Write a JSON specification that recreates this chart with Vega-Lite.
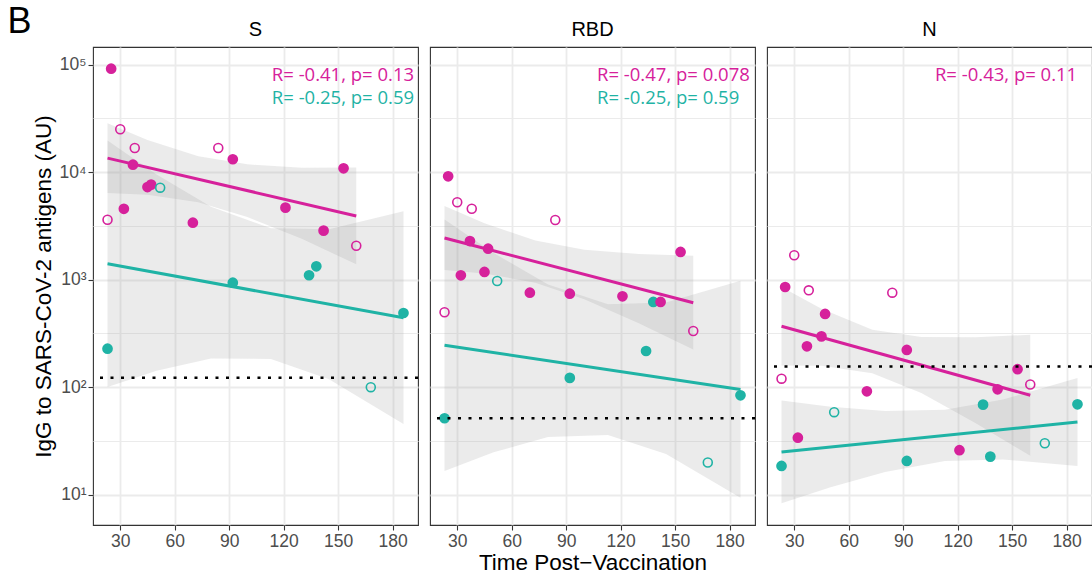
{
  "$schema": "https://vega.github.io/schema/vega-lite/v6.json",
  "padding": {"left": 7, "top": 4, "right": 0, "bottom": 0},
  "title": {"text": "B", "orient": "left", "anchor": "end", "frame": "bounds", "angle": 0, "align": "left", "baseline": "top", "offset": 0, "dy": -14, "font": "Liberation Sans", "fontSize": 36, "fontWeight": "normal", "color": "black"},
  "spacing": 8,
  "datasets": {
    "pts": [
      {"panel": "S", "group": "G2", "hollow": true, "day": 52, "igg": 7180},
      {"panel": "S", "group": "G2", "hollow": true, "day": 168, "igg": 100},
      {"panel": "S", "group": "G2", "hollow": false, "day": 92, "igg": 938},
      {"panel": "S", "group": "G2", "hollow": false, "day": 134, "igg": 1100},
      {"panel": "S", "group": "G2", "hollow": false, "day": 138, "igg": 1333},
      {"panel": "S", "group": "G2", "hollow": false, "day": 23, "igg": 228},
      {"panel": "S", "group": "G2", "hollow": false, "day": 186, "igg": 490},
      {"panel": "S", "group": "G1", "hollow": false, "day": 25, "igg": 91800},
      {"panel": "S", "group": "G1", "hollow": false, "day": 37, "igg": 11750},
      {"panel": "S", "group": "G1", "hollow": false, "day": 92, "igg": 13200},
      {"panel": "S", "group": "G1", "hollow": false, "day": 153, "igg": 10870},
      {"panel": "S", "group": "G1", "hollow": false, "day": 45, "igg": 7280},
      {"panel": "S", "group": "G1", "hollow": false, "day": 47, "igg": 7660},
      {"panel": "S", "group": "G1", "hollow": false, "day": 32, "igg": 4570},
      {"panel": "S", "group": "G1", "hollow": false, "day": 70, "igg": 3390},
      {"panel": "S", "group": "G1", "hollow": false, "day": 121, "igg": 4680},
      {"panel": "S", "group": "G1", "hollow": false, "day": 142, "igg": 2860},
      {"panel": "S", "group": "G1", "hollow": true, "day": 30, "igg": 25100},
      {"panel": "S", "group": "G1", "hollow": true, "day": 38, "igg": 16800},
      {"panel": "S", "group": "G1", "hollow": true, "day": 84, "igg": 16800},
      {"panel": "S", "group": "G1", "hollow": true, "day": 23, "igg": 3610},
      {"panel": "S", "group": "G1", "hollow": true, "day": 160, "igg": 2070},
      {"panel": "RBD", "group": "G2", "hollow": true, "day": 52, "igg": 973},
      {"panel": "RBD", "group": "G2", "hollow": true, "day": 168, "igg": 19.9},
      {"panel": "RBD", "group": "G2", "hollow": false, "day": 138, "igg": 621},
      {"panel": "RBD", "group": "G2", "hollow": false, "day": 134, "igg": 217},
      {"panel": "RBD", "group": "G2", "hollow": false, "day": 92, "igg": 122},
      {"panel": "RBD", "group": "G2", "hollow": false, "day": 186, "igg": 84},
      {"panel": "RBD", "group": "G2", "hollow": false, "day": 23, "igg": 51.4},
      {"panel": "RBD", "group": "G1", "hollow": false, "day": 25, "igg": 9160},
      {"panel": "RBD", "group": "G1", "hollow": false, "day": 37, "igg": 2290},
      {"panel": "RBD", "group": "G1", "hollow": false, "day": 47, "igg": 1941},
      {"panel": "RBD", "group": "G1", "hollow": false, "day": 32, "igg": 1099},
      {"panel": "RBD", "group": "G1", "hollow": false, "day": 45, "igg": 1180},
      {"panel": "RBD", "group": "G1", "hollow": false, "day": 153, "igg": 1811},
      {"panel": "RBD", "group": "G1", "hollow": false, "day": 70, "igg": 757},
      {"panel": "RBD", "group": "G1", "hollow": false, "day": 92, "igg": 741},
      {"panel": "RBD", "group": "G1", "hollow": false, "day": 121, "igg": 701},
      {"panel": "RBD", "group": "G1", "hollow": false, "day": 142, "igg": 621},
      {"panel": "RBD", "group": "G1", "hollow": true, "day": 30, "igg": 5250},
      {"panel": "RBD", "group": "G1", "hollow": true, "day": 38, "igg": 4570},
      {"panel": "RBD", "group": "G1", "hollow": true, "day": 84, "igg": 3590},
      {"panel": "RBD", "group": "G1", "hollow": true, "day": 23, "igg": 498},
      {"panel": "RBD", "group": "G1", "hollow": true, "day": 160, "igg": 333},
      {"panel": "N", "group": "G2", "hollow": true, "day": 52, "igg": 58.5},
      {"panel": "N", "group": "G2", "hollow": true, "day": 168, "igg": 30.1},
      {"panel": "N", "group": "G2", "hollow": false, "day": 134, "igg": 68.8},
      {"panel": "N", "group": "G2", "hollow": false, "day": 186, "igg": 69.3},
      {"panel": "N", "group": "G2", "hollow": false, "day": 92, "igg": 20.6},
      {"panel": "N", "group": "G2", "hollow": false, "day": 138, "igg": 22.6},
      {"panel": "N", "group": "G2", "hollow": false, "day": 23, "igg": 18.5},
      {"panel": "N", "group": "G1", "hollow": false, "day": 25, "igg": 855},
      {"panel": "N", "group": "G1", "hollow": false, "day": 47, "igg": 480},
      {"panel": "N", "group": "G1", "hollow": false, "day": 45, "igg": 297},
      {"panel": "N", "group": "G1", "hollow": false, "day": 37, "igg": 240},
      {"panel": "N", "group": "G1", "hollow": false, "day": 92, "igg": 222},
      {"panel": "N", "group": "G1", "hollow": false, "day": 153, "igg": 147},
      {"panel": "N", "group": "G1", "hollow": false, "day": 142, "igg": 95.5},
      {"panel": "N", "group": "G1", "hollow": false, "day": 70, "igg": 91.6},
      {"panel": "N", "group": "G1", "hollow": false, "day": 32, "igg": 33.9},
      {"panel": "N", "group": "G1", "hollow": false, "day": 121, "igg": 25.9},
      {"panel": "N", "group": "G1", "hollow": true, "day": 30, "igg": 1687},
      {"panel": "N", "group": "G1", "hollow": true, "day": 38, "igg": 796},
      {"panel": "N", "group": "G1", "hollow": true, "day": 84, "igg": 757},
      {"panel": "N", "group": "G1", "hollow": true, "day": 23, "igg": 120},
      {"panel": "N", "group": "G1", "hollow": true, "day": 160, "igg": 106}
    ],
    "fits": [
      {"panel": "S", "group": "G1", "day": 23, "igg": 13520},
      {"panel": "S", "group": "G1", "day": 160, "igg": 3917},
      {"panel": "S", "group": "G2", "day": 23, "igg": 1406},
      {"panel": "S", "group": "G2", "day": 186, "igg": 442.6},
      {"panel": "RBD", "group": "G1", "day": 23, "igg": 2443},
      {"panel": "RBD", "group": "G1", "day": 160, "igg": 609.5},
      {"panel": "RBD", "group": "G2", "day": 23, "igg": 245.5},
      {"panel": "RBD", "group": "G2", "day": 186, "igg": 95.2},
      {"panel": "N", "group": "G1", "day": 23, "igg": 369},
      {"panel": "N", "group": "G1", "day": 160, "igg": 84.1},
      {"panel": "N", "group": "G2", "day": 23, "igg": 24.9},
      {"panel": "N", "group": "G2", "day": 186, "igg": 47.4}
    ],
    "bands": [
      {"panel": "S", "group": "G1", "day": 23, "igg": 6397, "igg2": 28580},
      {"panel": "S", "group": "G1", "day": 45, "igg": 6159, "igg2": 19930},
      {"panel": "S", "group": "G1", "day": 73, "igg": 5243, "igg2": 14110},
      {"panel": "S", "group": "G1", "day": 100, "igg": 3833, "igg2": 11840},
      {"panel": "S", "group": "G1", "day": 130, "igg": 2403, "igg2": 10985},
      {"panel": "S", "group": "G1", "day": 160, "igg": 1390, "igg2": 11040},
      {"panel": "S", "group": "G2", "day": 23, "igg": 100.5, "igg2": 19770},
      {"panel": "S", "group": "G2", "day": 50, "igg": 141.9, "igg2": 9506},
      {"panel": "S", "group": "G2", "day": 80, "igg": 184.9, "igg2": 4764},
      {"panel": "S", "group": "G2", "day": 113, "igg": 183.2, "igg2": 3013},
      {"panel": "S", "group": "G2", "day": 145, "igg": 118.6, "igg2": 2951},
      {"panel": "S", "group": "G2", "day": 186, "igg": 45.4, "igg2": 4335},
      {"panel": "RBD", "group": "G1", "day": 23, "igg": 1230, "igg2": 4853},
      {"panel": "RBD", "group": "G1", "day": 45, "igg": 1144, "igg2": 3347},
      {"panel": "RBD", "group": "G1", "day": 73, "igg": 938, "igg2": 2313},
      {"panel": "RBD", "group": "G1", "day": 100, "igg": 659, "igg2": 1904},
      {"panel": "RBD", "group": "G1", "day": 130, "igg": 393, "igg2": 1736},
      {"panel": "RBD", "group": "G1", "day": 160, "igg": 224, "igg2": 1667},
      {"panel": "RBD", "group": "G2", "day": 23, "igg": 16.6, "igg2": 3622},
      {"panel": "RBD", "group": "G2", "day": 50, "igg": 24.8, "igg2": 1774},
      {"panel": "RBD", "group": "G2", "day": 80, "igg": 34.4, "igg2": 904},
      {"panel": "RBD", "group": "G2", "day": 113, "igg": 35.9, "igg2": 590},
      {"panel": "RBD", "group": "G2", "day": 145, "igg": 23.9, "igg2": 612},
      {"panel": "RBD", "group": "G2", "day": 186, "igg": 9.35, "igg2": 975},
      {"panel": "N", "group": "G1", "day": 23, "igg": 159.2, "igg2": 855},
      {"panel": "N", "group": "G1", "day": 45, "igg": 158.1, "igg2": 535.4},
      {"panel": "N", "group": "G1", "day": 73, "igg": 134.8, "igg2": 342.9},
      {"panel": "N", "group": "G1", "day": 100, "igg": 88.3, "igg2": 292.2},
      {"panel": "N", "group": "G1", "day": 130, "igg": 46.2, "igg2": 291.6},
      {"panel": "N", "group": "G1", "day": 160, "igg": 23.0, "igg2": 307.6},
      {"panel": "N", "group": "G2", "day": 23, "igg": 8.3, "igg2": 75.0},
      {"panel": "N", "group": "G2", "day": 50, "igg": 11.69, "igg2": 65.9},
      {"panel": "N", "group": "G2", "day": 80, "igg": 16.29, "igg2": 59.9},
      {"panel": "N", "group": "G2", "day": 113, "igg": 20.58, "igg2": 61.5},
      {"panel": "N", "group": "G2", "day": 145, "igg": 21.25, "igg2": 76.7},
      {"panel": "N", "group": "G2", "day": 186, "igg": 18.45, "igg2": 121.9}
    ],
    "thr": [
      {"panel": "S", "igg": 122.5},
      {"panel": "RBD", "igg": 51.4},
      {"panel": "N", "igg": 156}
    ],
    "notes": [
      {"panel": "S", "group": "G1", "day": 113.5, "igg": 80200, "label": "R= -0.41, p= 0.13"},
      {"panel": "S", "group": "G2", "day": 113.5, "igg": 49000, "label": "R= -0.25, p= 0.59"},
      {"panel": "RBD", "group": "G1", "day": 107, "igg": 80200, "label": "R= -0.47, p= 0.078"},
      {"panel": "RBD", "group": "G2", "day": 107, "igg": 49000, "label": "R= -0.25, p= 0.59"},
      {"panel": "N", "group": "G1", "day": 107.5, "igg": 80200, "label": "R= -0.43, p= 0.11"}
    ]
  },
  "hconcat": [
    {
      "width": 325, "height": 478,
      "title": {"text": "S", "frame": "group", "anchor": "middle", "offset": 7, "fontSize": 20, "font": "Liberation Sans", "fontWeight": "normal", "color": "black"},
      "layer": [
        {"data": {"name": "bands"}, "transform": [{"filter": "datum.panel == 'S'"}],
         "mark": {"type": "area", "color": "#999999", "opacity": 0.2},
         "encoding": {
           "x": {"field": "day", "type": "quantitative", "scale": {"domain": [15, 194], "nice": false, "zero": false},
                 "axis": {"title": null, "values": [30,45,60,75,90,105,120,135,150,165,180], "labelExpr": "datum.value % 30 == 0 ? datum.label : ''",
                          "gridWidth": {"condition": {"test": "datum.value % 30 == 0", "value": 1.8}, "value": 1.1},
                          "tickOpacity": {"condition": {"test": "datum.value % 30 == 0", "value": 1}, "value": 0}}},
           "y": {"field": "igg", "type": "quantitative", "scale": {"type": "log", "domain": [5.22, 146200], "nice": false},
                 "axis": {"title": "IgG to SARS-CoV-2 antigens (AU)", "titlePadding": 4, "values": [10, 31.6228, 100, 316.228, 1000, 3162.28, 10000, 31622.8, 100000],
                          "labelExpr": "datum.value == 10 ? '10¹' : datum.value == 100 ? '10²' : datum.value == 1000 ? '10³' : datum.value == 10000 ? '10⁴' : datum.value == 100000 ? '10⁵' : ''",
                          "gridWidth": {"condition": {"test": "indexof([10,100,1000,10000,100000], datum.value) >= 0", "value": 1.8}, "value": 1.1},
                          "tickOpacity": {"condition": {"test": "indexof([10,100,1000,10000,100000], datum.value) >= 0", "value": 1}, "value": 0}}},
           "y2": {"field": "igg2"},
           "detail": {"field": "group", "type": "nominal"}
         }},
        {"data": {"name": "fits"}, "transform": [{"filter": "datum.panel == 'S'"}],
         "mark": {"type": "line", "strokeWidth": 3},
         "encoding": {
           "x": {"field": "day", "type": "quantitative", "scale": {"domain": [15, 194], "nice": false, "zero": false}},
           "y": {"field": "igg", "type": "quantitative", "scale": {"type": "log", "domain": [5.22, 146200], "nice": false}},
           "color": {"field": "group", "type": "nominal", "scale": {"domain": ["G1", "G2"], "range": ["#D6219B", "#1FB3A5"]}, "legend": null}
         }},
        {"data": {"name": "pts"}, "transform": [{"filter": "datum.panel == 'S' && !datum.hollow"}],
         "mark": {"type": "circle", "size": 115, "opacity": 1},
         "encoding": {
           "x": {"field": "day", "type": "quantitative", "scale": {"domain": [15, 194], "nice": false, "zero": false}},
           "y": {"field": "igg", "type": "quantitative", "scale": {"type": "log", "domain": [5.22, 146200], "nice": false}},
           "color": {"field": "group", "type": "nominal", "scale": {"domain": ["G1", "G2"], "range": ["#D6219B", "#1FB3A5"]}, "legend": null}
         }},
        {"data": {"name": "pts"}, "transform": [{"filter": "datum.panel == 'S' && datum.hollow"}],
         "mark": {"type": "point", "shape": "circle", "filled": false, "size": 80, "strokeWidth": 1.6, "opacity": 1},
         "encoding": {
           "x": {"field": "day", "type": "quantitative", "scale": {"domain": [15, 194], "nice": false, "zero": false}},
           "y": {"field": "igg", "type": "quantitative", "scale": {"type": "log", "domain": [5.22, 146200], "nice": false}},
           "color": {"field": "group", "type": "nominal", "scale": {"domain": ["G1", "G2"], "range": ["#D6219B", "#1FB3A5"]}, "legend": null}
         }},
        {"data": {"name": "thr"}, "transform": [{"filter": "datum.panel == 'S'"}],
         "mark": {"type": "rule", "color": "black", "strokeWidth": 2.5, "strokeDash": [3, 7.5]},
         "encoding": {
           "y": {"field": "igg", "type": "quantitative", "scale": {"type": "log", "domain": [5.22, 146200], "nice": false}}
         }},
        {"data": {"name": "notes"}, "transform": [{"filter": "datum.panel == 'S'"}],
         "mark": {"type": "text", "align": "left", "baseline": "middle", "font": "Open Sans", "fontSize": 18.5},
         "encoding": {
           "x": {"field": "day", "type": "quantitative", "scale": {"domain": [15, 194], "nice": false, "zero": false}},
           "y": {"field": "igg", "type": "quantitative", "scale": {"type": "log", "domain": [5.22, 146200], "nice": false}},
           "text": {"field": "label"},
           "color": {"field": "group", "type": "nominal", "scale": {"domain": ["G1", "G2"], "range": ["#D6219B", "#1FB3A5"]}, "legend": null}
         }}
      ]
    },
    {
      "width": 325, "height": 478,
      "title": {"text": "RBD", "frame": "group", "anchor": "middle", "offset": 7, "fontSize": 20, "font": "Liberation Sans", "fontWeight": "normal", "color": "black"},
      "layer": [
        {"data": {"name": "bands"}, "transform": [{"filter": "datum.panel == 'RBD'"}],
         "mark": {"type": "area", "color": "#999999", "opacity": 0.2},
         "encoding": {
           "x": {"field": "day", "type": "quantitative", "scale": {"domain": [15, 194], "nice": false, "zero": false},
                 "axis": {"title": "Time Post\u2212Vaccination", "titlePadding": 2, "values": [30,45,60,75,90,105,120,135,150,165,180], "labelExpr": "datum.value % 30 == 0 ? datum.label : ''",
                          "gridWidth": {"condition": {"test": "datum.value % 30 == 0", "value": 1.8}, "value": 1.1},
                          "tickOpacity": {"condition": {"test": "datum.value % 30 == 0", "value": 1}, "value": 0}}},
           "y": {"field": "igg", "type": "quantitative", "scale": {"type": "log", "domain": [5.22, 146200], "nice": false},
                 "axis": {"title": null, "labels": false, "ticks": false, "values": [10, 31.6228, 100, 316.228, 1000, 3162.28, 10000, 31622.8, 100000],
                          "gridWidth": {"condition": {"test": "indexof([10,100,1000,10000,100000], datum.value) >= 0", "value": 1.8}, "value": 1.1}}},
           "y2": {"field": "igg2"},
           "detail": {"field": "group", "type": "nominal"}
         }},
        {"data": {"name": "fits"}, "transform": [{"filter": "datum.panel == 'RBD'"}],
         "mark": {"type": "line", "strokeWidth": 3},
         "encoding": {
           "x": {"field": "day", "type": "quantitative", "scale": {"domain": [15, 194], "nice": false, "zero": false}},
           "y": {"field": "igg", "type": "quantitative", "scale": {"type": "log", "domain": [5.22, 146200], "nice": false}},
           "color": {"field": "group", "type": "nominal", "scale": {"domain": ["G1", "G2"], "range": ["#D6219B", "#1FB3A5"]}, "legend": null}
         }},
        {"data": {"name": "pts"}, "transform": [{"filter": "datum.panel == 'RBD' && !datum.hollow"}],
         "mark": {"type": "circle", "size": 115, "opacity": 1},
         "encoding": {
           "x": {"field": "day", "type": "quantitative", "scale": {"domain": [15, 194], "nice": false, "zero": false}},
           "y": {"field": "igg", "type": "quantitative", "scale": {"type": "log", "domain": [5.22, 146200], "nice": false}},
           "color": {"field": "group", "type": "nominal", "scale": {"domain": ["G1", "G2"], "range": ["#D6219B", "#1FB3A5"]}, "legend": null}
         }},
        {"data": {"name": "pts"}, "transform": [{"filter": "datum.panel == 'RBD' && datum.hollow"}],
         "mark": {"type": "point", "shape": "circle", "filled": false, "size": 80, "strokeWidth": 1.6, "opacity": 1},
         "encoding": {
           "x": {"field": "day", "type": "quantitative", "scale": {"domain": [15, 194], "nice": false, "zero": false}},
           "y": {"field": "igg", "type": "quantitative", "scale": {"type": "log", "domain": [5.22, 146200], "nice": false}},
           "color": {"field": "group", "type": "nominal", "scale": {"domain": ["G1", "G2"], "range": ["#D6219B", "#1FB3A5"]}, "legend": null}
         }},
        {"data": {"name": "thr"}, "transform": [{"filter": "datum.panel == 'RBD'"}],
         "mark": {"type": "rule", "color": "black", "strokeWidth": 2.5, "strokeDash": [3, 7.5]},
         "encoding": {
           "y": {"field": "igg", "type": "quantitative", "scale": {"type": "log", "domain": [5.22, 146200], "nice": false}}
         }},
        {"data": {"name": "notes"}, "transform": [{"filter": "datum.panel == 'RBD'"}],
         "mark": {"type": "text", "align": "left", "baseline": "middle", "font": "Open Sans", "fontSize": 18.5},
         "encoding": {
           "x": {"field": "day", "type": "quantitative", "scale": {"domain": [15, 194], "nice": false, "zero": false}},
           "y": {"field": "igg", "type": "quantitative", "scale": {"type": "log", "domain": [5.22, 146200], "nice": false}},
           "text": {"field": "label"},
           "color": {"field": "group", "type": "nominal", "scale": {"domain": ["G1", "G2"], "range": ["#D6219B", "#1FB3A5"]}, "legend": null}
         }}
      ]
    },
    {
      "width": 325, "height": 478,
      "title": {"text": "N", "frame": "group", "anchor": "middle", "offset": 7, "fontSize": 20, "font": "Liberation Sans", "fontWeight": "normal", "color": "black"},
      "layer": [
        {"data": {"name": "bands"}, "transform": [{"filter": "datum.panel == 'N'"}],
         "mark": {"type": "area", "color": "#999999", "opacity": 0.2},
         "encoding": {
           "x": {"field": "day", "type": "quantitative", "scale": {"domain": [15, 194], "nice": false, "zero": false},
                 "axis": {"title": null, "values": [30,45,60,75,90,105,120,135,150,165,180], "labelExpr": "datum.value % 30 == 0 ? datum.label : ''",
                          "gridWidth": {"condition": {"test": "datum.value % 30 == 0", "value": 1.8}, "value": 1.1},
                          "tickOpacity": {"condition": {"test": "datum.value % 30 == 0", "value": 1}, "value": 0}}},
           "y": {"field": "igg", "type": "quantitative", "scale": {"type": "log", "domain": [5.22, 146200], "nice": false},
                 "axis": {"title": null, "labels": false, "ticks": false, "values": [10, 31.6228, 100, 316.228, 1000, 3162.28, 10000, 31622.8, 100000],
                          "gridWidth": {"condition": {"test": "indexof([10,100,1000,10000,100000], datum.value) >= 0", "value": 1.8}, "value": 1.1}}},
           "y2": {"field": "igg2"},
           "detail": {"field": "group", "type": "nominal"}
         }},
        {"data": {"name": "fits"}, "transform": [{"filter": "datum.panel == 'N'"}],
         "mark": {"type": "line", "strokeWidth": 3},
         "encoding": {
           "x": {"field": "day", "type": "quantitative", "scale": {"domain": [15, 194], "nice": false, "zero": false}},
           "y": {"field": "igg", "type": "quantitative", "scale": {"type": "log", "domain": [5.22, 146200], "nice": false}},
           "color": {"field": "group", "type": "nominal", "scale": {"domain": ["G1", "G2"], "range": ["#D6219B", "#1FB3A5"]}, "legend": null}
         }},
        {"data": {"name": "pts"}, "transform": [{"filter": "datum.panel == 'N' && !datum.hollow"}],
         "mark": {"type": "circle", "size": 115, "opacity": 1},
         "encoding": {
           "x": {"field": "day", "type": "quantitative", "scale": {"domain": [15, 194], "nice": false, "zero": false}},
           "y": {"field": "igg", "type": "quantitative", "scale": {"type": "log", "domain": [5.22, 146200], "nice": false}},
           "color": {"field": "group", "type": "nominal", "scale": {"domain": ["G1", "G2"], "range": ["#D6219B", "#1FB3A5"]}, "legend": null}
         }},
        {"data": {"name": "pts"}, "transform": [{"filter": "datum.panel == 'N' && datum.hollow"}],
         "mark": {"type": "point", "shape": "circle", "filled": false, "size": 80, "strokeWidth": 1.6, "opacity": 1},
         "encoding": {
           "x": {"field": "day", "type": "quantitative", "scale": {"domain": [15, 194], "nice": false, "zero": false}},
           "y": {"field": "igg", "type": "quantitative", "scale": {"type": "log", "domain": [5.22, 146200], "nice": false}},
           "color": {"field": "group", "type": "nominal", "scale": {"domain": ["G1", "G2"], "range": ["#D6219B", "#1FB3A5"]}, "legend": null}
         }},
        {"data": {"name": "thr"}, "transform": [{"filter": "datum.panel == 'N'"}],
         "mark": {"type": "rule", "color": "black", "strokeWidth": 2.5, "strokeDash": [3, 7.5]},
         "encoding": {
           "y": {"field": "igg", "type": "quantitative", "scale": {"type": "log", "domain": [5.22, 146200], "nice": false}}
         }},
        {"data": {"name": "notes"}, "transform": [{"filter": "datum.panel == 'N'"}],
         "mark": {"type": "text", "align": "left", "baseline": "middle", "font": "Open Sans", "fontSize": 18.5},
         "encoding": {
           "x": {"field": "day", "type": "quantitative", "scale": {"domain": [15, 194], "nice": false, "zero": false}},
           "y": {"field": "igg", "type": "quantitative", "scale": {"type": "log", "domain": [5.22, 146200], "nice": false}},
           "text": {"field": "label"},
           "color": {"field": "group", "type": "nominal", "scale": {"domain": ["G1", "G2"], "range": ["#D6219B", "#1FB3A5"]}, "legend": null}
         }}
      ]
    }
  ],
  "config": {
    "font": "Liberation Sans",
    "view": {"stroke": "#333333", "strokeWidth": 1.1},
    "axis": {
      "domain": false, "grid": true, "gridColor": "#EBEBEB",
      "tickColor": "#333333", "tickWidth": 1.1, "tickSize": 5,
      "labelColor": "#4D4D4D", "labelFont": "Liberation Sans", "labelFontSize": 17.5, "labelPadding": 2,
      "labelOverlap": false, "labelFlush": false, "labelBound": false,
      "titleFont": "Liberation Sans", "titleFontSize": 22.5, "titleFontWeight": "normal", "titleColor": "black"
    }
  }
}
